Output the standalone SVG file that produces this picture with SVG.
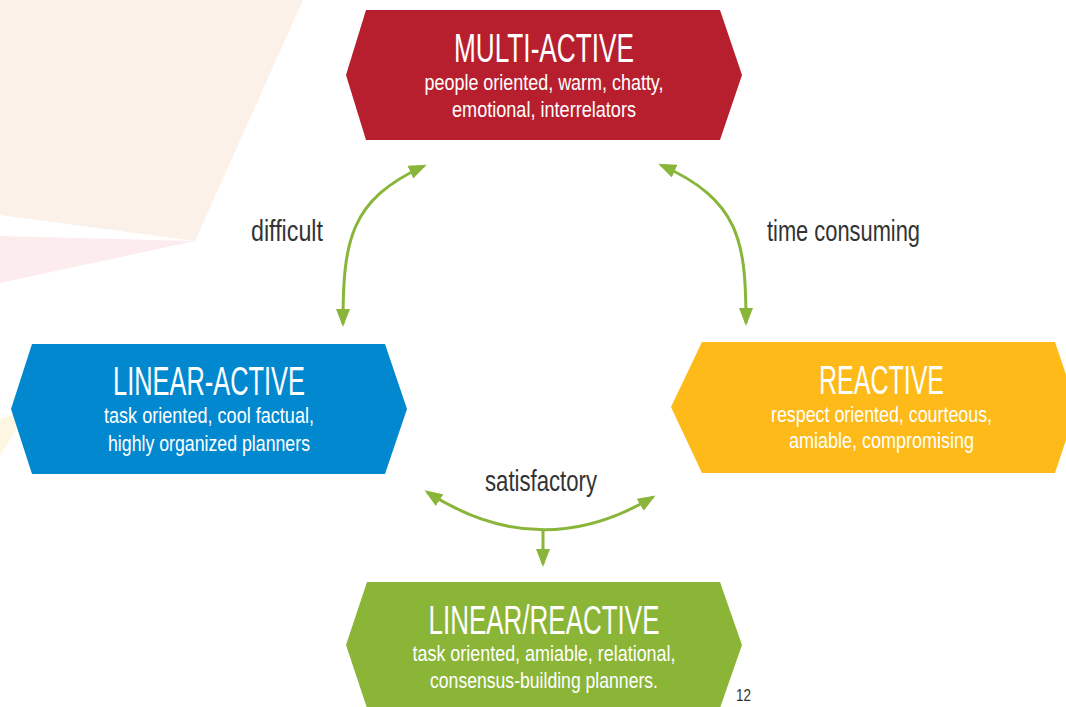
<svg xmlns="http://www.w3.org/2000/svg" width="1066" height="707" viewBox="0 0 1066 707">
  <style>
    .title { font-family: "Liberation Sans", Arial, sans-serif; font-size: 40px; fill: #ffffff; text-anchor: middle; }
    .sub { font-family: "Liberation Sans", Arial, sans-serif; font-size: 22px; fill: #ffffff; text-anchor: middle; }
    .label { font-family: "Liberation Sans", Arial, sans-serif; font-size: 30px; fill: #333333; }
    .link { fill: none; stroke: #89B53A; stroke-width: 3; marker-start: url(#head); marker-end: url(#head); }
    .stem { fill: none; stroke: #89B53A; stroke-width: 3; marker-end: url(#head); }
  </style>
  <defs>
    <marker id="head" markerUnits="userSpaceOnUse" markerWidth="18" markerHeight="14" refX="15" refY="7" orient="auto-start-reverse">
      <path d="M0,0 L18,7 L0,14 Z" fill="#89B53A"/>
    </marker>
  </defs>

  <!-- pale background facets -->
  <g id="background">
    <polygon points="0,0 303,0 195,241 0,215" fill="#FCF1E8"/>
    <polygon points="0,236 195,241 0,283" fill="#FDECEE"/>
    <polygon points="0,419 14,414 17,428 0,456" fill="#FDF6E3"/>
  </g>

  <!-- connectors -->
  <g id="connectors">
    <path class="link" d="M343,324 C343,240 350,200 424,166"/>
    <path class="link" d="M746,323 C746,240 739,200 661,165"/>
    <path class="link" d="M427,492 Q540,565 653,497"/>
    <path class="stem" d="M543,529 L543,564"/>
  </g>

  <g id="label-difficult">
    <text class="label" x="251" y="241" textLength="72" lengthAdjust="spacingAndGlyphs">difficult</text>
  </g>
  <g id="label-time-consuming">
    <text class="label" x="767" y="241" textLength="153" lengthAdjust="spacingAndGlyphs">time consuming</text>
  </g>
  <g id="label-satisfactory">
    <text class="label" x="485" y="491" textLength="112" lengthAdjust="spacingAndGlyphs">satisfactory</text>
  </g>

  <g id="multi-active">
    <polygon points="366,10 720,10 742,75 720,140 366,140 346,75" fill="#B81F2E"/>
    <text class="title" x="544" y="62" textLength="180" lengthAdjust="spacingAndGlyphs">MULTI-ACTIVE</text>
    <text class="sub" x="544" y="90" textLength="239" lengthAdjust="spacingAndGlyphs">people oriented, warm, chatty,</text>
    <text class="sub" x="544" y="117" textLength="184" lengthAdjust="spacingAndGlyphs">emotional, interrelators</text>
  </g>

  <g id="linear-active">
    <polygon points="32,344 385,344 407,409 385,474 32,474 11,409" fill="#0288CF"/>
    <text class="title" x="209" y="395" textLength="192" lengthAdjust="spacingAndGlyphs">LINEAR-ACTIVE</text>
    <text class="sub" x="209" y="423" textLength="210" lengthAdjust="spacingAndGlyphs">task oriented, cool factual,</text>
    <text class="sub" x="209" y="451" textLength="202" lengthAdjust="spacingAndGlyphs">highly organized planners</text>
  </g>

  <g id="reactive">
    <polygon points="702,342 1055,342 1077,407 1055,473 702,473 671,407" fill="#FDBA19"/>
    <text class="title" x="881.5" y="394" textLength="125" lengthAdjust="spacingAndGlyphs">REACTIVE</text>
    <text class="sub" x="881.5" y="422" textLength="221" lengthAdjust="spacingAndGlyphs">respect oriented, courteous,</text>
    <text class="sub" x="881.5" y="448" textLength="185" lengthAdjust="spacingAndGlyphs">amiable, compromising</text>
  </g>

  <g id="linear-reactive">
    <polygon points="367,582 720,582 742,645 720,708 367,708 346,645" fill="#8AB537"/>
    <text class="title" x="544" y="634" textLength="231" lengthAdjust="spacingAndGlyphs">LINEAR/REACTIVE</text>
    <text class="sub" x="544" y="661" textLength="263" lengthAdjust="spacingAndGlyphs">task oriented, amiable, relational,</text>
    <text class="sub" x="544" y="688" textLength="228" lengthAdjust="spacingAndGlyphs">consensus-building planners.</text>
  </g>

  <g id="page-number">
    <text x="736" y="701" font-family="Liberation Sans, Arial, sans-serif" font-size="16" fill="#333333" textLength="15" lengthAdjust="spacingAndGlyphs">12</text>
  </g>
</svg>
